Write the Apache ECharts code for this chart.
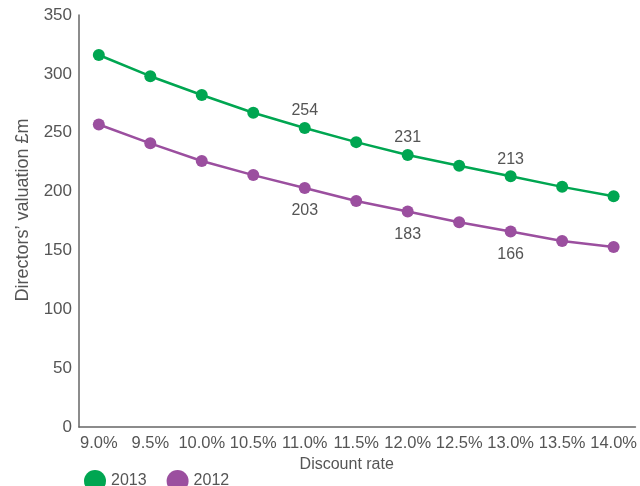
<!DOCTYPE html>
<html>
<head>
<meta charset="utf-8">
<script src="https://cdn.jsdelivr.net/npm/echarts@6/dist/echarts.min.js"></script>
<style>
  html, body { margin: 0; padding: 0; background: #fff; }
  #chart { width: 640px; height: 486px; }
</style>
</head>
<body>
<div id="chart"></div>
<script>
const categories = ['9.0%', '9.5%', '10.0%', '10.5%', '11.0%', '11.5%', '12.0%', '12.5%', '13.0%', '13.5%', '14.0%']
const values2013 = [316, 298, 282, 267, 254, 242, 231, 222, 213, 204, 196]
const values2012 = [257, 241, 226, 214, 203, 192, 183, 174, 166, 158, 153]
const labelled = [4, 6, 8]   // points that carry a value label

const green = '#00a651'
const purple = '#9b4f9f'
const textColor = '#555'
const font = 'Liberation Sans'

function toPoints(values, pos, dist) {
  return values.map((v, i) => {
    let item = { value: [i, v] }
    if (labelled.indexOf(i) >= 0) {
      item.label = { show: true, position: pos, distance: dist }
    }
    return item
  })
}

let chart = echarts.init(document.getElementById('chart'))
let option = {
  animation: false,
  textStyle: { fontFamily: font },
  grid: { left: 79, right: 0, top: 15, bottom: 59 },
  legend: {
    left: 79, top: 465,
    icon: 'circle',
    itemWidth: 22, itemHeight: 22, itemGap: 20,
    textStyle: { fontSize: 16, color: textColor, fontFamily: font },
    data: ['2013', '2012']
  },
  xAxis: {
    type: 'value',
    min: -0.385, max: 10.424,
    name: 'Discount rate',
    nameLocation: 'middle',
    nameGap: 30,
    nameTextStyle: { fontSize: 16, color: textColor, padding: [0, 21, 0, 0] },
    axisLine: { show: true, onZero: false, lineStyle: { color: '#666', width: 1.5 } },
    axisTick: { show: false },
    splitLine: { show: false },
    axisLabel: {
      customValues: categories.map((c, i) => i),
      formatter: v => categories[Math.round(v)],
      fontSize: 16.5, color: textColor, margin: 8
    }
  },
  yAxis: {
    type: 'value',
    min: 0, max: 350, interval: 50,
    name: 'Directors\u2019 valuation \u00a3m',
    nameLocation: 'middle',
    nameGap: 47,
    nameTextStyle: { fontSize: 18, color: textColor, padding: [0, 0, 0, 22] },
    axisLine: { show: true, onZero: false, lineStyle: { color: '#666', width: 1.5 } },
    axisTick: { show: false },
    splitLine: { show: false },
    axisLabel: { fontSize: 17, color: textColor, margin: 7 }
  },
  series: [
    {
      name: '2013',
      type: 'line',
      data: toPoints(values2013, 'top', 3),
      symbol: 'circle', symbolSize: 12,
      lineStyle: { color: green, width: 2.5 },
      itemStyle: { color: green },
      label: { fontSize: 16, color: textColor }
    },
    {
      name: '2012',
      type: 'line',
      data: toPoints(values2012, 'bottom', 9),
      symbol: 'circle', symbolSize: 12,
      lineStyle: { color: purple, width: 2.5 },
      itemStyle: { color: purple },
      label: { fontSize: 16, color: textColor }
    }
  ]
}
chart.setOption(option)
</script>
</body>
</html>
